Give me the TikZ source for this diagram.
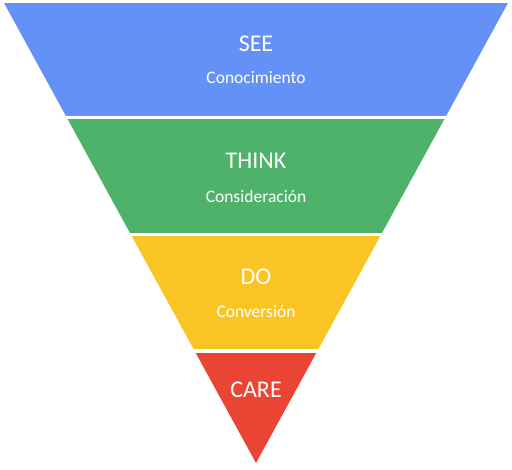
\documentclass[tikz,border=0pt]{standalone}
\usepackage{fontspec}
\setmainfont{Carlito}
\definecolor{seeblue}{RGB}{100,145,245}
\definecolor{thinkgreen}{RGB}{78,178,106}
\definecolor{doyellow}{RGB}{251,196,37}
\definecolor{carered}{RGB}{234,68,53}
\tikzset{
  stage/.style={text=white, font=\fontsize{24}{26}\selectfont, inner sep=0pt},
  sublabel/.style={text=white, font=\fontsize{17.5}{20}\selectfont, inner sep=0pt}
}
\begin{document}
\begin{tikzpicture}[x=1pt,y=-1pt]
  \useasboundingbox (0,0) rectangle (512,470);
  % funnel: triangle with apex (256,463), cut into four bands with white gaps
  \begin{scope}
    \clip (4,3) -- (508,3) -- (256,463) -- cycle;
    \fill[seeblue] (0,3) rectangle (512,116);
    \fill[thinkgreen] (0,119.5) rectangle (512,233);
    \fill[doyellow] (0,236.5) rectangle (512,349.5);
    \fill[carered] (0,353) rectangle (512,463);
  \end{scope}
  % labels
  \node[stage] (see) at (256,44) {SEE};
  \node[sublabel] (seesub) at (256,78) {Conocimiento};
  \node[stage] (think) at (256,161) {THINK};
  \node[sublabel] (thinksub) at (256,196) {Consideración};
  \node[stage] (do) at (256,277) {DO};
  \node[sublabel] (dosub) at (256,312) {Conversión};
  \node[stage] (care) at (256,390) {CARE};
\end{tikzpicture}
\end{document}
